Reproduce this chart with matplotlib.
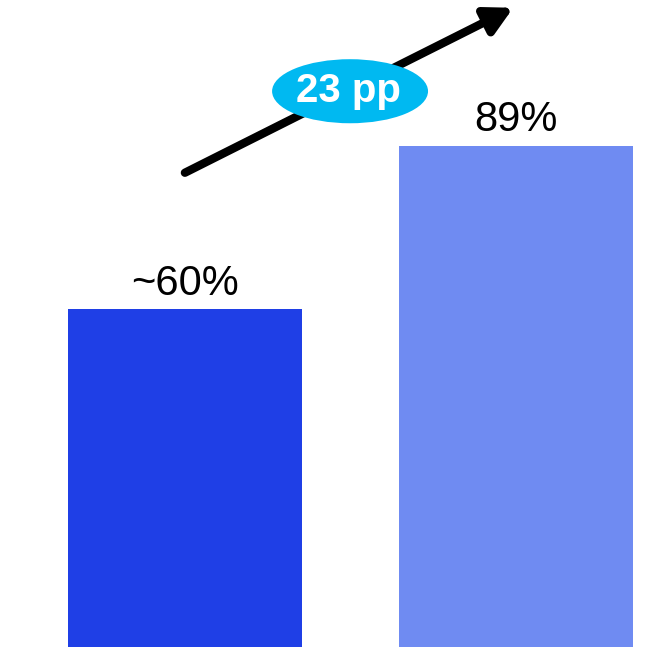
import matplotlib
matplotlib.use("Agg")
from matplotlib import pyplot as plt
from matplotlib.patches import Ellipse

# data
categories = ["before", "after"]
values = [60, 89]
labels = ["~60%", "89%"]
bar_colors = ["#1f3fe6", "#6f8bf2"]
change_label = "23 pp"

plt.rcParams['font.family'] = ['Liberation Sans', 'DejaVu Sans']

fig = plt.figure(figsize=(6.58, 6.47), dpi=100)
ax = fig.add_axes([0, 0, 1, 1])

x = list(range(len(categories)))
ax.bar(x, values, width=0.708, color=bar_colors)
for xi, v, lab in zip(x, values, labels):
    ax.annotate(lab, (xi, v), xytext=(0, 4), textcoords="offset points",
                ha="center", va="bottom", fontsize=30, color="black")

ax.set_xlim(-0.561, 1.43)
ax.set_ylim(0, 114.9)
ax.axis("off")

# trend arrow
ax.annotate("", xy=(0.780, 0.988), xytext=(0.281, 0.733), xycoords="axes fraction",
            textcoords="axes fraction",
            arrowprops=dict(arrowstyle="-|>,head_length=1.6,head_width=0.85",
                            color="black", lw=6, shrinkA=0, shrinkB=0))

ell = Ellipse((0.532, 0.859), 0.237, 0.099, transform=ax.transAxes,
              facecolor="#00b9f1", edgecolor="none", zorder=5)
ax.add_patch(ell)
ax.text(0.530, 0.859, change_label, transform=ax.transAxes, ha="center", va="center",
        fontsize=29, fontweight="bold", color="white", zorder=6)

fig.savefig("out.png", dpi=100)
